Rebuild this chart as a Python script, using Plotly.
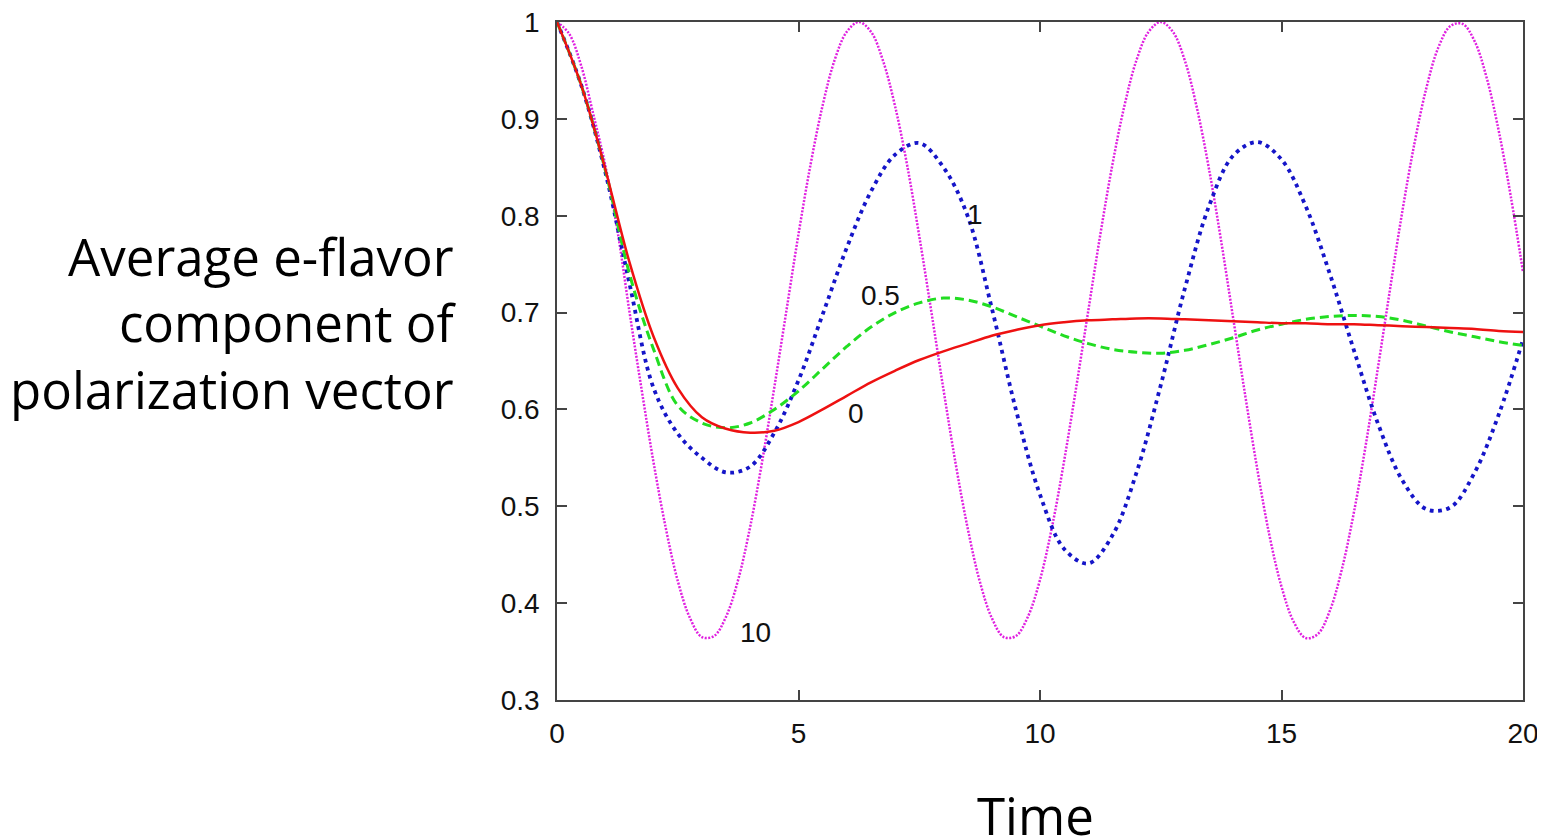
import plotly.graph_objects as go

time = [0.0, 0.5, 1.0, 1.5, 2.0, 2.5, 3.0, 3.5, 4.0, 4.5, 5.0, 5.5, 6.0, 6.5, 7.0, 7.5,
        8.0, 8.5, 9.0, 9.5, 10.0, 10.5, 11.0, 11.5, 12.0, 12.5, 13.0, 13.5, 14.0, 14.5,
        15.0, 15.5, 16.0, 16.5, 17.0, 17.5, 18.0, 18.5, 19.0, 19.5, 20.0]

time_fine = [0.0, 0.25, 0.5, 0.75, 1.0, 1.25, 1.5, 1.75, 2.0, 2.25, 2.5, 2.75,
             3.0, 3.25, 3.5, 3.75, 4.0, 4.25, 4.5, 4.75, 5.0, 5.25, 5.5, 5.75,
             6.0, 6.25, 6.5, 6.75, 7.0, 7.25, 7.5, 7.75, 8.0, 8.25, 8.5, 8.75,
             9.0, 9.25, 9.5, 9.75, 10.0, 10.25, 10.5, 10.75, 11.0, 11.25, 11.5, 11.75,
             12.0, 12.25, 12.5, 12.75, 13.0, 13.25, 13.5, 13.75, 14.0, 14.25, 14.5, 14.75,
             15.0, 15.25, 15.5, 15.75, 16.0, 16.25, 16.5, 16.75, 17.0, 17.25, 17.5, 17.75,
             18.0, 18.25, 18.5, 18.75, 19.0, 19.25, 19.5, 19.75, 20.0]

mu_0 = [1.0, 0.935, 0.848, 0.752, 0.675, 0.622, 0.592, 0.580, 0.576, 0.578, 0.587,
        0.600, 0.614, 0.628, 0.640, 0.651, 0.660, 0.668, 0.676, 0.682, 0.687, 0.690,
        0.692, 0.693, 0.694, 0.694, 0.693, 0.692, 0.691, 0.690, 0.689, 0.689, 0.688,
        0.688, 0.687, 0.686, 0.685, 0.684, 0.683, 0.681, 0.680]

mu_05 = [1.0, 0.935, 0.847, 0.740, 0.662, 0.604, 0.586, 0.581, 0.586, 0.600, 0.619,
         0.642, 0.665, 0.685, 0.700, 0.710, 0.715, 0.713, 0.706, 0.696, 0.686, 0.676,
         0.668, 0.662, 0.659, 0.658, 0.661, 0.667, 0.674, 0.682, 0.688, 0.693, 0.696,
         0.697, 0.696, 0.692, 0.686, 0.680, 0.675, 0.670, 0.666]

mu_1 = [1.0, 0.935, 0.845, 0.730, 0.622, 0.575, 0.550, 0.535, 0.541, 0.576, 0.630,
        0.698, 0.767, 0.825, 0.863, 0.875, 0.850, 0.800, 0.705, 0.600, 0.512, 0.456,
        0.441, 0.470, 0.535, 0.625, 0.725, 0.810, 0.862, 0.876, 0.858, 0.810, 0.740,
        0.661, 0.585, 0.527, 0.497, 0.499, 0.535, 0.595, 0.672]

mu_10 = [1.0, 0.988, 0.955, 0.905, 0.852, 0.785, 0.701, 0.621, 0.545, 0.478, 0.423, 0.385,
         0.365, 0.366, 0.386, 0.424, 0.479, 0.547, 0.623, 0.702, 0.781, 0.853, 0.914, 0.961,
         0.990, 1.0, 0.990, 0.960, 0.913, 0.852, 0.779, 0.701, 0.621, 0.545, 0.478, 0.423,
         0.385, 0.365, 0.366, 0.386, 0.424, 0.479, 0.547, 0.623, 0.702, 0.781, 0.853, 0.914,
         0.961, 0.990, 1.0, 0.990, 0.960, 0.911, 0.848, 0.774, 0.694, 0.614, 0.538, 0.470,
         0.417, 0.381, 0.364, 0.368, 0.392, 0.435, 0.494, 0.565, 0.644, 0.725, 0.804, 0.874,
         0.932, 0.974, 0.996, 0.998, 0.980, 0.942, 0.887, 0.819, 0.742]

curve_labels = ["0", "0.5", "1", "10"]
label_x = [6.19, 6.69, 8.65, 4.1]
label_y = [0.596, 0.718, 0.801, 0.370]

x_ticks = [0, 5, 10, 15, 20]
y_ticks = [0.3, 0.4, 0.5, 0.6, 0.7, 0.8, 0.9, 1.0]
y_tick_text = ["0.3", "0.4", "0.5", "0.6", "0.7", "0.8", "0.9", "1"]

fig = go.Figure()
fig.add_trace(go.Scatter(x=time_fine, y=mu_10, mode="lines", line_shape="spline",
                         line=dict(color="#e020e0", width=2.5, dash="2px,1.5px")))
fig.add_trace(go.Scatter(x=time, y=mu_1, mode="lines", line_shape="spline",
                         line=dict(color="#1515c8", width=3.8, dash="3.8px,4.5px")))
fig.add_trace(go.Scatter(x=time, y=mu_05, mode="lines", line_shape="spline",
                         line=dict(color="#22dd22", width=3, dash="9px,5px")))
fig.add_trace(go.Scatter(x=time, y=mu_0, mode="lines", line_shape="spline",
                         line=dict(color="#ee1111", width=2.5)))

for lab, lx, ly in zip(curve_labels, label_x, label_y):
    fig.add_annotation(x=lx, y=ly, xref="x", yref="y", text=lab, showarrow=False,
                       font=dict(family="Liberation Sans, Arial", size=28, color="#111111"))

fig.add_annotation(x=-0.1025, y=0.5575, xref="paper", yref="paper",
                   text="Average e-flavor<br>component of<br>polarization vector",
                   showarrow=False, xanchor="right", yanchor="middle", align="right",
                   font=dict(family="Open Sans", size=51, color="#000000"))
fig.add_annotation(x=0.495, y=-0.169, xref="paper", yref="paper", text="Time",
                   showarrow=False, xanchor="center", yanchor="middle",
                   font=dict(family="Open Sans", size=51, color="#000000"))

axis_common = dict(showline=True, linecolor="#444444", linewidth=1.5, mirror="ticks",
                   ticks="inside", ticklen=10, tickcolor="#444444", tickwidth=1.5,
                   showgrid=False, zeroline=False, automargin=False,
                   ticklabeloverflow="allow",
                   tickfont=dict(family="Liberation Sans, Arial", size=28, color="#111111"))

fig.update_xaxes(range=[0, 20], tickvals=x_ticks, ticklabelstandoff=8, **axis_common)
fig.update_yaxes(range=[0.3, 1.0], tickvals=y_ticks, ticktext=y_tick_text,
                 ticklabelstandoff=10, **axis_common)

# page body has an 8px margin: size the figure so the plot lands where the reference has it
fig.update_layout(width=1537, height=831, showlegend=False,
                  plot_bgcolor="white", paper_bgcolor="white",
                  margin=dict(l=549, r=22, t=14, b=139))

fig.write_html("out.html")
